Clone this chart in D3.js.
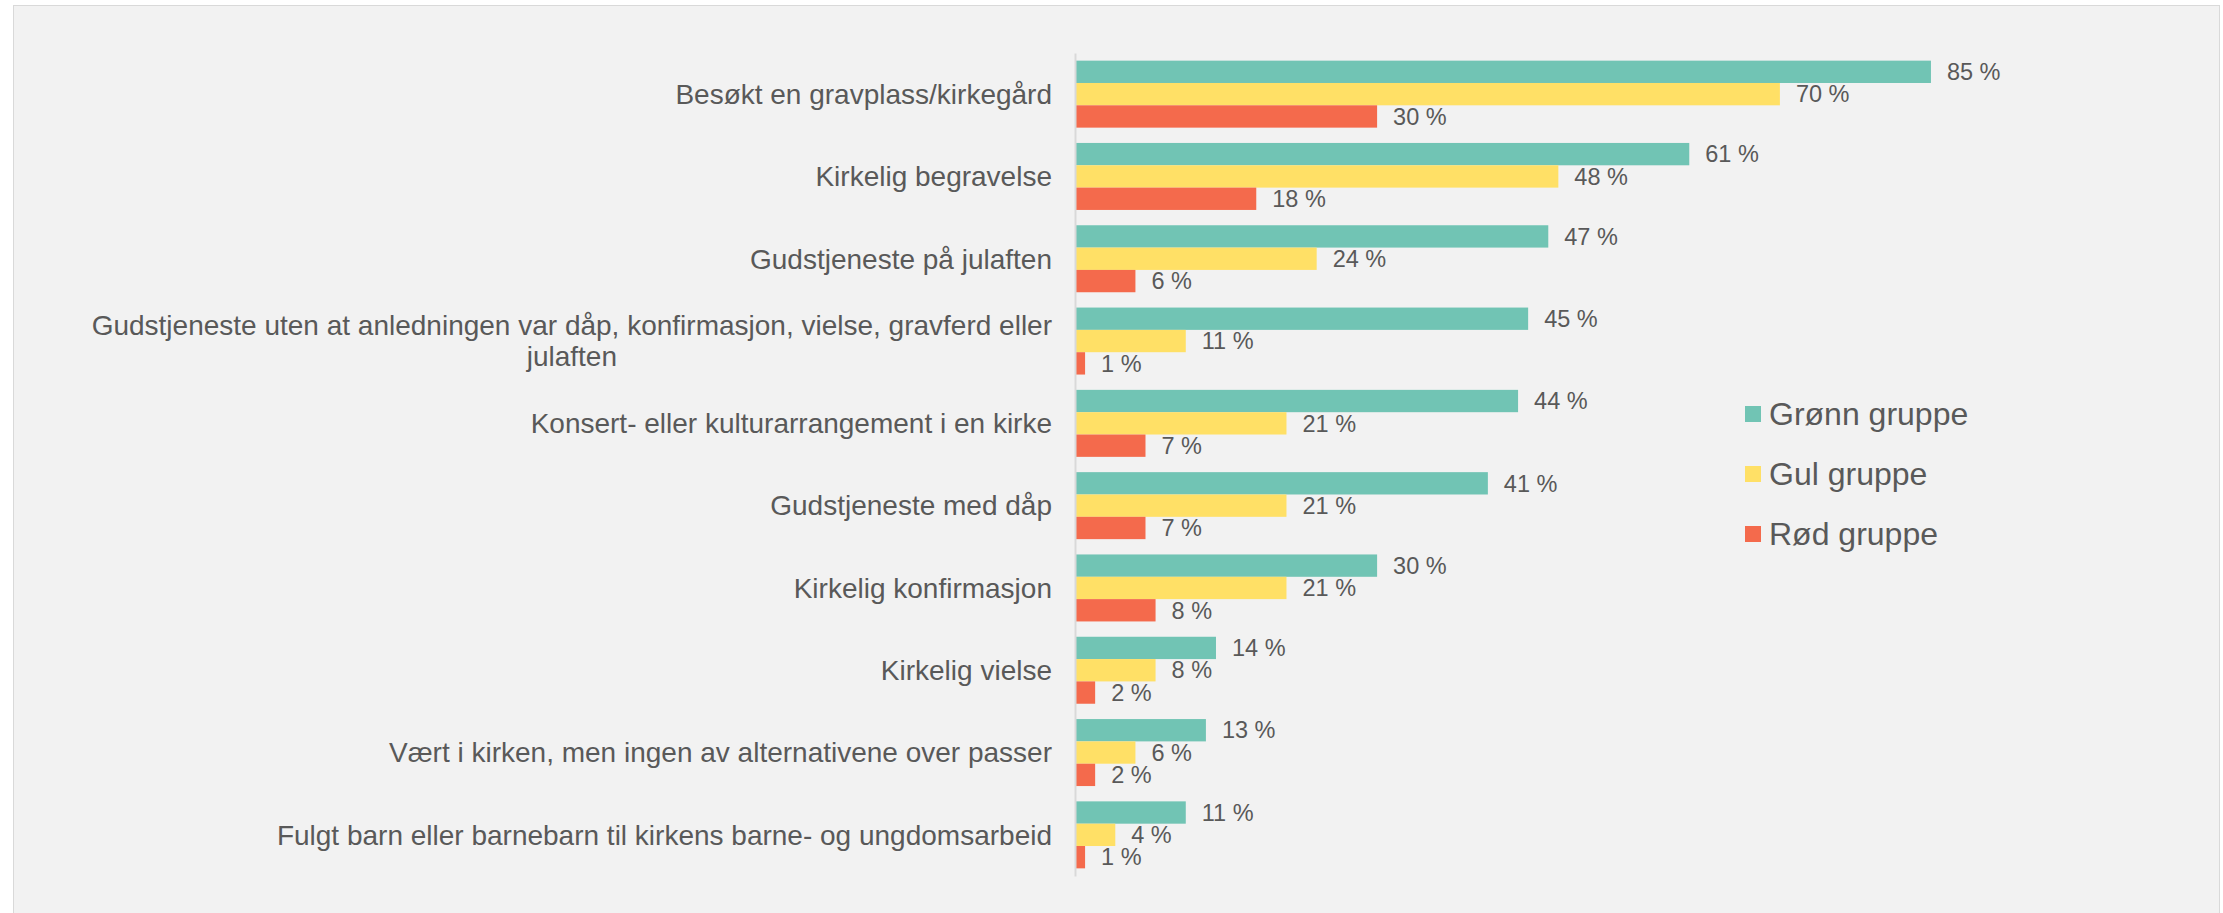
<!DOCTYPE html>
<html>
<head>
<meta charset="utf-8">
<script src="https://cdn.jsdelivr.net/npm/d3@7"></script>
<style>
  body { margin: 0; background: #ffffff; }
  text { font-family: "Liberation Sans", Arial, sans-serif; fill: #595959; }
</style>
</head>
<body>
<div id="chart"></div>
<script>
var svgWidth = 2223;
var svgHeight = 913;

// data
var categories = [
    "Besøkt en gravplass/kirkegård",
    "Kirkelig begravelse",
    "Gudstjeneste på julaften",
    "Gudstjeneste uten at anledningen var dåp, konfirmasjon, vielse, gravferd eller\njulaften",
    "Konsert- eller kulturarrangement i en kirke",
    "Gudstjeneste med dåp",
    "Kirkelig konfirmasjon",
    "Kirkelig vielse",
    "Vært i kirken, men ingen av alternativene over passer",
    "Fulgt barn eller barnebarn til kirkens barne- og ungdomsarbeid"
];
var seriesNames = ["Grønn gruppe", "Gul gruppe", "Rød gruppe"];
var gronn = [85, 61, 47, 45, 44, 41, 30, 14, 13, 11];
var gul = [70, 48, 24, 11, 21, 21, 21, 8, 6, 4];
var rod = [30, 18, 6, 1, 7, 7, 8, 2, 2, 1];
var colors = ["#71c4b4", "#ffe066", "#f46a4c"];

var seriesValues = [gronn, gul, rod];

var axisX = 1075;
var plotTop = 53;
var plotBottom = 876;

var svg = d3.select("#chart")
    .append("svg")
    .attr("width", svgWidth)
    .attr("height", svgHeight);

// grey panel
svg.append("rect")
    .attr("x", 13.5)
    .attr("y", 5.5)
    .attr("width", 2206)
    .attr("height", 912)
    .attr("fill", "#f2f2f2")
    .attr("stroke", "#d9d9d9")
    .attr("stroke-width", 1);

var xScale = d3.scaleLinear()
    .domain([0, 100])
    .range([axisX, axisX + 1007]);

var yScale = d3.scaleBand()
    .domain(categories)
    .range([plotTop, plotBottom])
    .paddingInner(0.186)
    .paddingOuter(0.093);

var ySub = d3.scaleBand()
    .domain(seriesNames)
    .range([0, yScale.bandwidth()]);

var rows = [];
categories.forEach(function(c, i) {
    seriesNames.forEach(function(s, j) {
        rows.push({cat: c, series: s, value: seriesValues[j][i], color: colors[j]});
    });
});

var bars = svg.append("g").attr("class", "bars");

bars.selectAll("rect")
    .data(rows)
    .enter()
    .append("rect")
    .attr("x", xScale(0))
    .attr("y", function(d) { return yScale(d.cat) + ySub(d.series); })
    .attr("width", function(d) { return xScale(d.value) - xScale(0); })
    .attr("height", ySub.bandwidth())
    .attr("fill", function(d) { return d.color; });

bars.selectAll("text")
    .data(rows)
    .enter()
    .append("text")
    .attr("x", function(d) { return xScale(d.value) + 16; })
    .attr("y", function(d) { return yScale(d.cat) + ySub(d.series) + ySub.bandwidth() / 2; })
    .attr("dy", "0.35em")
    .attr("font-size", 23.5)
    .text(function(d) { return d.value + " %"; });

// vertical axis line, no ticks
var yAxis = d3.axisLeft(yScale).tickSize(0).tickSizeOuter(0).tickFormat("");
svg.append("g")
    .attr("class", "yAxis")
    .attr("transform", "translate(" + axisX + ",0)")
    .call(yAxis)
    .select(".domain")
    .attr("stroke", "#d9d9d9")
    .attr("stroke-width", 2);

// category labels
var labels = svg.append("g").attr("class", "catLabels");
categories.forEach(function(c) {
    var lines = c.split("\n");
    var lh = 31;
    var cy = yScale(c) + yScale.bandwidth() / 2;
    var t = labels.append("text")
        .attr("text-anchor", "end")
        .attr("font-size", 28);
    lines.forEach(function(line, k) {
        t.append("tspan")
            .attr("x", axisX - 23)
            .attr("y", cy + (k - (lines.length - 1) / 2) * lh)
            .attr("dy", "0.35em")
            .text(line);
    });
    if (lines.length > 1) {
        // second line is centred under the first one
        var first = t.select("tspan").node();
        var w = first.getComputedTextLength();
        var mid = axisX - 23 - w / 2;
        t.selectAll("tspan").filter(function(d, k) { return k > 0; })
            .attr("x", mid)
            .attr("text-anchor", "middle");
    }
});

// legend
var legend = svg.append("g").attr("class", "legend");
seriesNames.forEach(function(s, i) {
    var ly = 414 + i * 60;
    legend.append("rect")
        .attr("x", 1745)
        .attr("y", ly - 8)
        .attr("width", 16)
        .attr("height", 16)
        .attr("fill", colors[i]);
    legend.append("text")
        .attr("x", 1769)
        .attr("y", ly)
        .attr("dy", "0.35em")
        .attr("font-size", 32)
        .text(s);
});
</script>
</body>
</html>
